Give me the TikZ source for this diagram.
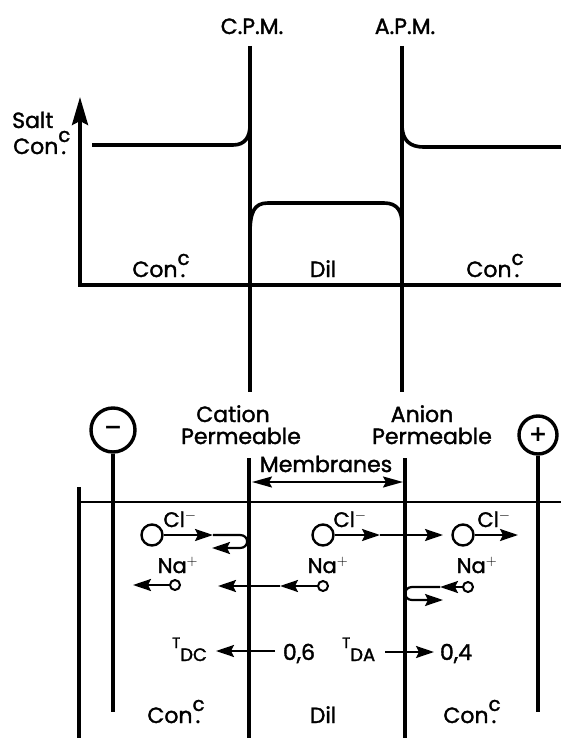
\documentclass[tikz,border=0pt]{standalone}
\usepackage{fontspec}
\setmainfont{Poppins}[FakeBold=1.6]
\newfontfamily\symf{DejaVu Sans}
\usetikzlibrary{arrows.meta}
\newcommand\cnc{Con\makebox[0pt][l]{\hspace{0.14em}.}\raisebox{0.55em}{\scalebox{0.9}{c}}}
\newcommand\fsz[1]{\fontsize{#1}{#1}\selectfont}
\begin{document}
\begin{tikzpicture}[x=1pt,y=-1pt,
  thk/.style={line width=3.6pt},
  med/.style={line width=2.2pt},
  arr/.style={line width=2.2pt,-{Stealth[length=18pt,width=12pt,inset=3pt]}},
  lbl/.style={inner sep=0pt,anchor=base,font=\fsz{22}},
  ion/.style={circle,draw,line width=2.4pt,minimum size=21pt,inner sep=0pt},
  nion/.style={circle,draw,line width=2pt,minimum size=10pt,inner sep=0pt},
  elec/.style={circle,draw,line width=3.4pt,inner sep=0pt}]
\useasboundingbox (0,0) rectangle (561,738);

% ---------- upper graph ----------
\coordinate (c1) at (250,46);  \coordinate (c2) at (250,392);
\coordinate (a1) at (402,46);  \coordinate (a2) at (402,392);
\draw[thk] (c1) -- (c2);
\draw[thk] (a1) -- (a2);
\coordinate (o) at (80,285); \coordinate (yt) at (80,97); \coordinate (xe) at (561,285);
\draw[thk,{Stealth[length=28pt,width=16pt,inset=4pt]}-] (yt) -- (o) -- (xe);
\draw[thk] (92,145) -- (233,145) .. controls (245,145) and (250,137) .. (250,125);
\draw[thk] (250,234) .. controls (250,212) and (254,203) .. (268,203) -- (384,203) .. controls (398,203) and (402,212) .. (402,224);
\draw[thk] (402,127) .. controls (403,140) and (409,147) .. (424,147) -- (561,147);

\node[lbl] (cpm) at (252,34) {C.P.M.};
\node[lbl] (apm) at (405,34) {A.P.M.};
\node[lbl,anchor=base west] (salt) at (12,128) {Salt};
\node[lbl,anchor=base west] (sconc) at (13,154) {\cnc};
\node[lbl] (gl) at (161,277) {\cnc};
\node[lbl] (gm) at (323,277) {Dil};
\node[lbl] (gr) at (495,277) {\cnc};

% ---------- lower cell ----------
\coordinate (c3) at (249,458); \coordinate (c4) at (249,738);
\coordinate (a3) at (405,458); \coordinate (a4) at (405,738);
\draw[thk] (c3) -- (c4);
\draw[thk] (a3) -- (a4);
\coordinate (w1) at (79,487); \coordinate (w2) at (79,738);
\draw[thk] (w1) -- (w2);
\coordinate (l1) at (79,502); \coordinate (l2) at (561,502);
\draw[med] (l1) -- (l2);

\node[lbl] (cat) at (233,422) {Cation};
\node[lbl] (cperm) at (241,444) {Permeable};
\node[lbl] (an) at (422,422) {Anion};
\node[lbl] (aperm) at (432,444) {Permeable};
\node[lbl] (mem) at (326,472) {Membranes};
\coordinate (m1) at (252,482); \coordinate (m2) at (403,482);
\draw[line width=2pt,{Stealth[length=20pt,width=11pt,inset=3pt]}-{Stealth[length=20pt,width=11pt,inset=3pt]}] (m1) -- (m2);

\node[elec,minimum size=44pt] (neg) at (113,430) {\symf\bfseries\fsz{22}−};
\node[elec,minimum size=38pt] (pos) at (538,435) {\symf\bfseries\fsz{22}+};
\coordinate (nb) at (113,712); \coordinate (pb) at (538,712);
\draw[thk] (neg) -- (nb);
\draw[thk] (pos) -- (pb);

% ions
\node[ion] (clL) at (152,535) {};
\node[ion] (clM) at (323,535) {};
\node[ion] (clR) at (463,535) {};
\node[lbl,font=\fsz{21}] at (180,527) {Cl$^{-}$};
\node[lbl,font=\fsz{21}] at (350,527) {Cl$^{-}$};
\node[lbl,font=\fsz{21}] at (494,527) {Cl$^{-}$};
\node[nion] (naL) at (175,585) {};
\node[nion] (naM) at (323,586) {};
\node[nion] (naR) at (468,587) {};
\node[lbl,font=\fsz{21}] at (178,573) {Na$^{+}$};
\node[lbl,font=\fsz{21}] at (328,573) {Na$^{+}$};
\node[lbl,font=\fsz{21}] at (477,573) {Na$^{+}$};

\coordinate (p1) at (213,535); \coordinate (p2) at (240,535);
\coordinate (p3) at (240,548); \coordinate (p4) at (212,548);
\draw[arr] (clL) -- (p1);
\draw[arr] (p1) -- (p2) .. controls (249.5,535) and (249.5,548) .. (p3) -- (p4);
\coordinate (q1) at (380,535); \coordinate (q2) at (443,535);
\draw[arr] (clM) -- (q1);
\draw[arr] (q1) -- (q2);
\coordinate (r1) at (518,535);
\draw[arr] (clR) -- (r1);

\coordinate (s1) at (133,585);
\draw[arr] (naL) -- (s1);
\coordinate (t1) at (280,586); \coordinate (t2) at (218,586);
\draw[arr] (naM) -- (t1);
\draw[arr] (t1) -- (t2);
\coordinate (u1) at (440,587); \coordinate (u2) at (412,587);
\coordinate (u3) at (412,600); \coordinate (u4) at (443,600);
\draw[arr] (naR) -- (u1);
\draw[arr] (u1) -- (u2) .. controls (403,587) and (403,600) .. (u3) -- (u4);

% transport numbers
\node[inner sep=0pt,anchor=base west] (tdc) at (172,648) {\fsz{15}T\raisebox{-13pt}{\fsz{18}DC}};
\node[lbl] (v6) at (299,660) {0,6};
\coordinate (k1) at (275,651); \coordinate (k2) at (216,651);
\draw[arr] (k1) -- (k2);
\node[inner sep=0pt,anchor=base west] (tda) at (342,648) {\fsz{15}T\raisebox{-13pt}{\fsz{18}DA}};
\node[lbl] (v4) at (456,660) {0,4};
\coordinate (k3) at (385,652); \coordinate (k4) at (434,652);
\draw[arr] (k3) -- (k4);

\node[lbl] (bl) at (176,723) {\cnc};
\node[lbl] (bm) at (323,723) {Dil};
\node[lbl] (br) at (472,723) {\cnc};
\end{tikzpicture}
\end{document}
